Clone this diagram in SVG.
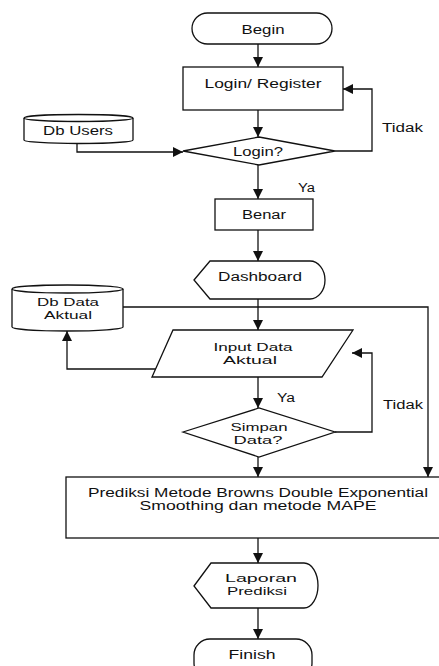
<svg xmlns="http://www.w3.org/2000/svg" width="439" height="666" viewBox="0 0 439 666">
<defs>
<marker id="ah" markerWidth="11" markerHeight="11" refX="10" refY="5" orient="auto" markerUnits="userSpaceOnUse">
<path d="M0,0 L10,5 L0,10 Z" fill="#111"/>
</marker>
<style>
.s{fill:#fff;stroke:#111;stroke-width:1.3}
.c{fill:none;stroke:#111;stroke-width:1.3}
.a{marker-end:url(#ah)}
text{font-family:"Liberation Sans",Arial,sans-serif;font-size:12px;fill:#111;text-anchor:middle}
.l{text-anchor:start}
.t{font-size:11.5px}
</style>
</defs>
<rect width="439" height="666" fill="#fff"/>
<g id="connectors">
<path class="c a" d="M258,44 V67"/>
<path class="c a" d="M258,110 V137"/>
<path class="c a" d="M335,151 H372 V89 H343"/>
<path class="c a" d="M77,143 V152 H183"/>
<path class="c a" d="M258,165 V199"/>
<path class="c a" d="M258,230 V261"/>
<path class="c a" d="M258,299 V330"/>
<path class="c a" d="M123,307 H428 V477"/>
<path class="c a" d="M156,369 H67 V331"/>
<path class="c a" d="M258,377 V408"/>
<path class="c a" d="M335,432 H372 V353 H352"/>
<path class="c a" d="M258,457 V477"/>
<path class="c a" d="M258,538 V563"/>
<path class="c a" d="M258,608 V639"/>
<text class="l" x="382" y="132" textLength="41" lengthAdjust="spacingAndGlyphs">Tidak</text>
<text class="l" x="298" y="192" textLength="17" lengthAdjust="spacingAndGlyphs">Ya</text>
<text class="l" x="277" y="402" textLength="18" lengthAdjust="spacingAndGlyphs">Ya</text>
<text class="l" x="383" y="409" textLength="40" lengthAdjust="spacingAndGlyphs">Tidak</text>
</g>
<g id="begin">
<rect class="s" x="192" y="13" width="140" height="31" rx="15.5"/>
<text x="263" y="34" textLength="43" lengthAdjust="spacingAndGlyphs">Begin</text>
</g>
<g id="login-register">
<rect class="s" x="183" y="67" width="160" height="43"/>
<text x="263" y="87.5" textLength="117" lengthAdjust="spacingAndGlyphs">Login/ Register</text>
</g>
<g id="login-decision">
<polygon class="s" points="183,151 259,137 335,151 259,165"/>
<text x="258" y="156" textLength="50" lengthAdjust="spacingAndGlyphs">Login?</text>
</g>
<g id="db-users">
<path class="s" d="M24,118 A54.5,3.5 0 0 1 133,118 V140 A54.5,3.5 0 0 1 24,140 Z"/>
<path class="c" d="M24,118 A54.5,3.5 0 0 0 133,118"/>
<text x="78" y="135" textLength="70" lengthAdjust="spacingAndGlyphs">Db Users</text>
</g>
<g id="benar">
<rect class="s" x="215" y="199" width="98" height="31"/>
<text x="264" y="219" textLength="44" lengthAdjust="spacingAndGlyphs">Benar</text>
</g>
<g id="dashboard">
<path class="s" d="M194,280 L210,261 H310 A15,19 0 0 1 310,299 H210 Z"/>
<text x="260" y="281" textLength="84" lengthAdjust="spacingAndGlyphs">Dashboard</text>
</g>
<g id="db-data-aktual">
<path class="s" d="M12,289 A55.5,4 0 0 1 123,289 V327 A55.5,4 0 0 1 12,327 Z"/>
<path class="c" d="M12,289 A55.5,4 0 0 0 123,289"/>
<text class="t" x="68" y="305.5" textLength="62" lengthAdjust="spacingAndGlyphs">Db Data</text>
<text class="t" x="68" y="318.5" textLength="48" lengthAdjust="spacingAndGlyphs">Aktual</text>
</g>
<g id="input-data">
<polygon class="s" points="173,330 353,330 322,377 152,377"/>
<text class="t" x="253" y="350.5" textLength="79" lengthAdjust="spacingAndGlyphs">Input Data</text>
<text class="t" x="250" y="363.5" textLength="54" lengthAdjust="spacingAndGlyphs">Aktual</text>
</g>
<g id="simpan-decision">
<polygon class="s" points="183,432 259,408 335,432 259,457"/>
<text class="t" x="259" y="430.5" textLength="57" lengthAdjust="spacingAndGlyphs">Simpan</text>
<text class="t" x="258" y="443.5" textLength="49" lengthAdjust="spacingAndGlyphs">Data?</text>
</g>
<g id="prediksi">
<rect class="s" x="66" y="477" width="380" height="61"/>
<text x="258" y="497" textLength="340" lengthAdjust="spacingAndGlyphs">Prediksi Metode Browns Double Exponential</text>
<text x="258" y="510" textLength="237" lengthAdjust="spacingAndGlyphs">Smoothing  dan metode MAPE</text>
</g>
<g id="laporan">
<path class="s" d="M194,586 L211,563 H304 A14,22.5 0 0 1 304,608 H211 Z"/>
<text class="t" x="261" y="581.5" textLength="72" lengthAdjust="spacingAndGlyphs">Laporan</text>
<text class="t" x="257" y="594.5" textLength="60" lengthAdjust="spacingAndGlyphs">Prediksi</text>
</g>
<g id="finish">
<rect class="s" x="194" y="639" width="118" height="40" rx="16"/>
<text x="252" y="659" textLength="47" lengthAdjust="spacingAndGlyphs">Finish</text>
</g>
</svg>
